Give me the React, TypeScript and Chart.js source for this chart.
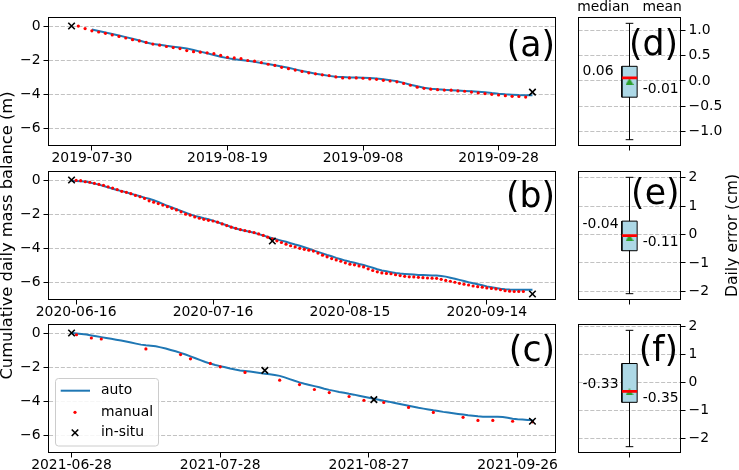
import React, { useEffect, useRef } from "react";
import { Chart, registerables } from "chart.js";

Chart.register(...registerables);

// ---------------- data ----------------
// Panel (a) 2019
const startA = "2019-07-27";
const tickLabelsA = ["2019-07-30", "2019-08-19", "2019-09-08", "2019-09-28"];
const autoFirstDayA = 3;
const autoA = [
  -0.2, -0.29, -0.38, -0.47, -0.56, -0.65, -0.75, -0.85, -0.96, -1.05,
  -1.1, -1.16, -1.21, -1.26, -1.31, -1.4, -1.5, -1.6, -1.7, -1.8,
  -1.88, -1.94, -1.99, -2.04, -2.1, -2.16, -2.22, -2.3, -2.37, -2.45,
  -2.54, -2.63, -2.71, -2.79, -2.86, -2.92, -2.97, -2.99, -3.01, -3.02,
  -3.03, -3.05, -3.08, -3.12, -3.17, -3.24, -3.33, -3.44, -3.53, -3.61,
  -3.67, -3.71, -3.74, -3.76, -3.78, -3.8, -3.82, -3.85, -3.88, -3.93,
  -3.97, -4.0, -4.02, -4.04, -4.05, -4.06,
];
const manualFirstDayA = 1;
const manualA = [
  0.0, -0.15, -0.28, -0.35, -0.43, -0.52, -0.61, -0.7, -0.8, -0.87,
  -0.96, -1.06, -1.12, -1.2, -1.26, -1.32, -1.44, -1.5, -1.53, -1.57,
  -1.62, -1.72, -1.83, -1.87, -1.91, -2.02, -2.06, -2.14, -2.24, -2.31,
  -2.42, -2.5, -2.58, -2.66, -2.74, -2.8, -2.86, -2.9, -2.98, -3.04,
  -3.04, -3.04, -3.06, -3.1, -3.12, -3.18, -3.22, -3.27, -3.36, -3.47,
  -3.58, -3.65, -3.7, -3.73, -3.75, -3.76, -3.8, -3.82, -3.87, -3.92,
  -3.96, -4.0, -4.04, -4.08, -4.12, -4.13, -4.16,
];
const insituDaysA = [0, 68];
const insituA = [0.0, -3.87];

// Panel (b) 2020
const startB = "2020-06-15";
const tickLabelsB = ["2020-06-16", "2020-07-16", "2020-08-15", "2020-09-14"];
const autoFirstDayB = 0;
const autoB = [
  -0.05, -0.06, -0.07, -0.09, -0.14, -0.21, -0.27, -0.35, -0.43, -0.51,
  -0.58, -0.65, -0.72, -0.8, -0.87, -0.95, -1.03, -1.1, -1.18, -1.29,
  -1.4, -1.51, -1.61, -1.71, -1.81, -1.91, -2.01, -2.1, -2.17, -2.24,
  -2.3, -2.38, -2.47, -2.56, -2.65, -2.75, -2.84, -2.91, -2.97, -3.03,
  -3.09, -3.17, -3.25, -3.33, -3.41, -3.48, -3.55, -3.62, -3.7, -3.78,
  -3.85, -3.94, -4.03, -4.12, -4.21, -4.3, -4.39, -4.47, -4.56, -4.64,
  -4.72, -4.79, -4.85, -4.92, -4.98, -5.06, -5.14, -5.23, -5.3, -5.35,
  -5.4, -5.45, -5.48, -5.5, -5.52, -5.54, -5.56, -5.57, -5.58, -5.59,
  -5.6, -5.62, -5.66, -5.72, -5.78, -5.85, -5.92, -5.99, -6.05, -6.11,
  -6.17, -6.23, -6.28, -6.33, -6.37, -6.4, -6.42, -6.43, -6.43, -6.43,
  -6.43, -6.43,
];
const manualFirstDayB = 1;
const manualB = [
  -0.02, -0.04, -0.1, -0.13, -0.19, -0.25, -0.31, -0.4, -0.47, -0.56,
  -0.66, -0.72, -0.8, -0.9, -0.98, -1.08, -1.22, -1.3, -1.38, -1.47,
  -1.56, -1.66, -1.75, -1.86, -2.0, -2.06, -2.16, -2.24, -2.3, -2.36,
  -2.4, -2.47, -2.57, -2.67, -2.76, -2.83, -2.9, -2.96, -3.02, -3.08,
  -3.16, -3.24, -3.35, -3.45, -3.56, -3.66, -3.76, -3.85, -3.92, -4.0,
  -4.06, -4.11, -4.16, -4.28, -4.4, -4.5, -4.6, -4.68, -4.76, -4.85,
  -4.93, -4.97, -5.03, -5.09, -5.2, -5.3, -5.38, -5.44, -5.47, -5.49,
  -5.55, -5.6, -5.64, -5.67, -5.68, -5.7, -5.72, -5.74, -5.75, -5.76,
  -5.82, -5.88, -5.93, -5.99, -6.05, -6.1, -6.15, -6.21, -6.25, -6.28,
  -6.32, -6.35, -6.38, -6.43, -6.48, -6.51, -6.53, -6.53, -6.53,
];
const insituDaysB = [0, 44, 101];
const insituB = [0.0, -3.57, -6.68];

// Panel (c) 2021
const startC = "2021-06-28";
const tickLabelsC = ["2021-06-28", "2021-07-28", "2021-08-27", "2021-09-26"];
const autoFirstDayC = 0;
const autoC = [
  0.0, -0.03, -0.06, -0.09, -0.14, -0.19, -0.24, -0.29, -0.34, -0.39,
  -0.44, -0.5, -0.56, -0.62, -0.68, -0.72, -0.75, -0.78, -0.84, -0.91,
  -0.99, -1.07, -1.16, -1.26, -1.37, -1.48, -1.59, -1.7, -1.79, -1.87,
  -1.94, -2.01, -2.08, -2.14, -2.19, -2.22, -2.26, -2.3, -2.34, -2.38,
  -2.42, -2.46, -2.51, -2.6, -2.7, -2.8, -2.89, -2.97, -3.04, -3.11,
  -3.18, -3.26, -3.33, -3.39, -3.45, -3.5, -3.56, -3.61, -3.67, -3.73,
  -3.79, -3.85, -3.91, -3.97, -4.02, -4.08, -4.14, -4.2, -4.26, -4.32,
  -4.38, -4.43, -4.48, -4.53, -4.57, -4.62, -4.66, -4.7, -4.74, -4.78,
  -4.82, -4.85, -4.88, -4.9, -4.91, -4.91, -4.91, -4.92, -4.96, -5.02,
  -5.05, -5.07, -5.09, -5.1,
];
const manualDaysC = [1, 4, 6, 15, 22, 24, 28, 30, 35, 42, 46, 49, 52, 56, 59, 63, 68, 73, 79, 82, 85, 89, 93];
const manualC = [
  -0.1, -0.29, -0.35, -0.93, -1.26, -1.51, -1.78, -1.98, -2.31, -2.76,
  -3.02, -3.31, -3.49, -3.72, -3.94, -4.07, -4.36, -4.65, -4.94, -5.12,
  -5.12, -5.17, -5.2,
];
const insituDaysC = [0, 39, 61, 93];
const insituC = [0.0, -2.19, -3.9, -5.17];

const seriesYTicks = [-6, -4, -2, 0];
const seriesYRange = [-7, 0.5];

// Box panels: [lower whisker, Q1, median, Q3, upper whisker]
const boxStatsD = [-1.16, -0.32, 0.06, 0.29, 1.14];
const boxMeanD = -0.01;
const boxTicksD = [-1, -0.5, 0, 0.5, 1];
const boxStatsE = [-2.08, -0.57, -0.04, 0.47, 2.01];
const boxMeanE = -0.11;
const boxTicksE = [-2, -1, 0, 1, 2];
const boxStatsF = [-2.31, -0.72, -0.33, 0.67, 1.86];
const boxMeanF = -0.35;
const boxTicksF = [-2, -1, 0, 1, 2];

// ---------------- layout / style ----------------
const W = 739;
const H = 470;
const ROWS = [
  [17.5, 145.5],
  [171.5, 299.5],
  [324.5, 452.5],
];
const SERIES_X = [48.5, 555.5];
const BOX_X = [578.5, 680.5];
const FAMILY = "'DejaVu Sans', 'Liberation Sans', sans-serif";
const TICK_SIZE = 13.9;
const TICK_FONT = { family: FAMILY, size: TICK_SIZE, lineHeight: 1 };
const GRID_COLOR = "#c2c2c2";
const GRID_DASH = [4.1, 1.8];
const BLUE = "#1f77b4";

type Pt = { x: number; y: number };
const DAY = 86400000;
const dayOf = (start: string, d: string) =>
  Math.round((Date.parse(d) - Date.parse(start)) / DAY);
const consecutive = (first: number, vals: number[]): Pt[] =>
  vals.map((y, i) => ({ x: first + i, y }));
const paired = (days: number[], vals: number[]): Pt[] =>
  vals.map((y, i) => ({ x: days[i], y }));
const minus = (s: string) => s.replace("-", "\u2212");
const axisHeight = (bottom: number) => Math.min(22, H - bottom);

// centred triangle marker (matplotlib "^" style)
function triangleMarker(color: string, w: number, h: number) {
  const c = document.createElement("canvas");
  c.width = w;
  c.height = h;
  const g = c.getContext("2d")!;
  g.fillStyle = color;
  g.beginPath();
  g.moveTo(w / 2, 0);
  g.lineTo(w, h);
  g.lineTo(0, h);
  g.closePath();
  g.fill();
  return c;
}

const framePlugin = {
  id: "frame",
  afterDraw(chart: any) {
    const { ctx, chartArea: a } = chart;
    ctx.save();
    ctx.strokeStyle = "#000";
    ctx.lineWidth = 1;
    ctx.strokeRect(a.left, a.top, a.right - a.left, a.bottom - a.top);
    ctx.restore();
  },
};

function drawX(ctx: CanvasRenderingContext2D, x: number, y: number, r: number) {
  ctx.beginPath();
  ctx.moveTo(x - r, y - r);
  ctx.lineTo(x + r, y + r);
  ctx.moveTo(x + r, y - r);
  ctx.lineTo(x - r, y + r);
  ctx.stroke();
}

interface SeriesPanel {
  start: string;
  tickLabels: string[];
  auto: Pt[];
  manual: Pt[];
  insitu: Pt[];
  letter: string;
  letterDy: number;
  row: number;
}

function makeSeries(canvas: HTMLCanvasElement, p: SeriesPanel, extra: any[]) {
  const [top, bottom] = ROWS[p.row];
  const xs = [...p.auto, ...p.manual, ...p.insitu].map((d) => d.x);
  const lo = Math.min(...xs);
  const hi = Math.max(...xs);
  const m = 0.05 * (hi - lo);
  const tickDays = p.tickLabels.map((l) => dayOf(p.start, l));
  const YW = 40;
  const XH = axisHeight(bottom);
  const letterPlugin = {
    id: "letter",
    afterDraw(chart: any) {
      const { ctx, chartArea: a } = chart;
      ctx.save();
      ctx.font = `34.7px ${FAMILY}`;
      ctx.fillStyle = "#000";
      ctx.textAlign = "right";
      ctx.textBaseline = "alphabetic";
      ctx.fillText(p.letter, a.right - 0.5, a.top + p.letterDy);
      ctx.restore();
    },
  };
  return new Chart(canvas, {
    type: "line",
    data: {
      datasets: [
        {
          label: "in-situ",
          data: p.insitu,
          showLine: false,
          pointStyle: "crossRot",
          pointRadius: 4.6,
          pointBorderWidth: 1.6,
          pointBorderColor: "#000",
          pointBackgroundColor: "#000",
          borderColor: "#000",
          order: 1,
        },
        {
          label: "manual",
          data: p.manual,
          showLine: false,
          pointStyle: "circle",
          pointRadius: 1.6,
          pointBorderWidth: 0,
          pointBackgroundColor: "#ff0000",
          borderColor: "#ff0000",
          backgroundColor: "#ff0000",
          order: 2,
        },
        {
          label: "auto",
          data: p.auto,
          borderColor: BLUE,
          borderWidth: 2,
          pointRadius: 0,
          tension: 0,
          fill: false,
          order: 3,
        },
      ],
    },
    options: {
      animation: false,
      responsive: false,
      events: [],
      layout: {
        padding: {
          left: SERIES_X[0] - YW,
          right: W - SERIES_X[1],
          top,
          bottom: H - bottom - XH,
        },
      },
      plugins: { legend: { display: false }, tooltip: { enabled: false } },
      scales: {
        x: {
          type: "linear",
          min: lo - m,
          max: hi + m,
          afterBuildTicks: (s: any) => {
            s.ticks = tickDays.map((v) => ({ value: v }));
          },
          afterFit: (s: any) => {
            s.height = XH;
          },
          ticks: {
            autoSkip: false,
            maxRotation: 0,
            minRotation: 0,
            padding: 1,
            color: "#000",
            font: TICK_FONT,
            callback: (_v: any, i: number) => p.tickLabels[i],
          },
          grid: {
            display: true,
            drawOnChartArea: false,
            drawTicks: true,
            tickLength: 5,
            tickColor: "#000",
            tickWidth: 1,
          },
          border: { display: false },
        },
        y: {
          type: "linear",
          min: seriesYRange[0],
          max: seriesYRange[1],
          afterBuildTicks: (s: any) => {
            s.ticks = seriesYTicks.map((v) => ({ value: v }));
          },
          afterFit: (s: any) => {
            s.width = YW;
          },
          ticks: {
            padding: 3,
            color: "#000",
            font: TICK_FONT,
            callback: (v: any) => minus(String(v)),
          },
          grid: {
            display: true,
            color: GRID_COLOR,
            lineWidth: 1,
            drawTicks: true,
            tickLength: 5,
            tickColor: "#000",
            tickWidth: 1,
            tickBorderDash: [],
          },
          border: { display: false, dash: GRID_DASH },
        },
      },
    } as any,
    plugins: [framePlugin, letterPlugin, ...extra],
  });
}

interface BoxPanel {
  stats: number[];
  mean: number;
  ticks: number[];
  decimals: number;
  letter: string;
  letterDy: number;
  letterDx: number;
  medDy: number;
  meanDy: number;
  row: number;
}

function makeBox(canvas: HTMLCanvasElement, b: BoxPanel, extra: any[]) {
  const [top, bottom] = ROWS[b.row];
  const [lo, q1, med, q3, hi] = b.stats;
  const span = hi - lo;
  const POS = 1;
  const BW = 0.15;
  const CW = 0.075;
  const bl = POS - BW / 2;
  const br = POS + BW / 2;
  const seg = (x0: number, y0: number, x1: number, y1: number) => [
    { x: x0, y: y0 },
    { x: x1, y: y1 },
  ];
  const YW = 45;
  const XH = axisHeight(bottom);
  const line = (data: Pt[], color: string, width: number, order: number) => ({
    data,
    borderColor: color,
    borderWidth: width,
    pointRadius: 0,
    fill: false,
    tension: 0,
    borderCapStyle: "butt",
    order,
  });
  const textPlugin = {
    id: "boxText",
    afterDraw(chart: any) {
      const { ctx, chartArea: a } = chart;
      const sx = chart.scales.x;
      ctx.save();
      ctx.fillStyle = "#000";
      ctx.textBaseline = "alphabetic";
      ctx.textAlign = "left";
      ctx.font = `${TICK_SIZE}px ${FAMILY}`;
      ctx.fillText(med.toFixed(2), sx.getPixelForValue(0.54), a.top + b.medDy);
      ctx.fillText(b.mean.toFixed(2), sx.getPixelForValue(1.13), a.top + b.meanDy);
      ctx.font = `34.7px ${FAMILY}`;
      ctx.textAlign = "right";
      ctx.fillText(b.letter, a.right - b.letterDx, a.top + b.letterDy);
      ctx.restore();
    },
  };
  return new Chart(canvas, {
    type: "line",
    data: {
      datasets: [
        {
          data: seg(bl, q3, br, q3),
          fill: { value: q1 },
          backgroundColor: "#add8e6",
          borderColor: "rgba(0,0,0,0)",
          borderWidth: 0,
          pointRadius: 0,
          order: 10,
        },
        line(
          [
            { x: bl, y: q1 },
            { x: br, y: q1 },
            { x: br, y: q3 },
            { x: bl, y: q3 },
            { x: bl, y: q1 },
          ],
          "#000",
          1,
          8
        ),
        line(seg(POS, q3, POS, hi), "#000", 1, 7),
        line(seg(POS, q1, POS, lo), "#000", 1, 7),
        line(seg(POS - CW / 2, hi, POS + CW / 2, hi), "#000", 1, 7),
        line(seg(POS - CW / 2, lo, POS + CW / 2, lo), "#000", 1, 7),
        line(seg(bl, med, br, med), "#ff0000", 2.8, 1),
        {
          data: [{ x: POS, y: b.mean }],
          showLine: false,
          pointStyle: triangleMarker("#2ca02c", 8, 7),
          pointRadius: 4,
          pointBorderWidth: 0,
          pointBackgroundColor: "#2ca02c",
          pointBorderColor: "#2ca02c",
          order: 2,
        },
      ],
    },
    options: {
      animation: false,
      responsive: false,
      events: [],
      layout: {
        padding: {
          left: BOX_X[0],
          right: W - BOX_X[1] - YW,
          top,
          bottom: H - bottom - XH,
        },
      },
      plugins: { legend: { display: false }, tooltip: { enabled: false } },
      scales: {
        x: {
          type: "linear",
          min: 0.5,
          max: 1.5,
          afterBuildTicks: (s: any) => {
            s.ticks = [{ value: POS }];
          },
          afterFit: (s: any) => {
            s.height = XH;
          },
          ticks: { font: TICK_FONT, callback: () => "" },
          grid: {
            display: true,
            drawOnChartArea: false,
            drawTicks: true,
            tickLength: 5,
            tickColor: "#000",
            tickWidth: 1,
          },
          border: { display: false },
        },
        y: {
          type: "linear",
          position: "right",
          min: lo - 0.05 * span,
          max: hi + 0.05 * span,
          afterBuildTicks: (s: any) => {
            s.ticks = b.ticks.map((v) => ({ value: v }));
          },
          afterFit: (s: any) => {
            s.width = YW;
          },
          ticks: {
            padding: 3,
            color: "#000",
            font: TICK_FONT,
            callback: (v: any) => minus(Number(v).toFixed(b.decimals)),
          },
          grid: {
            display: true,
            color: GRID_COLOR,
            lineWidth: 1,
            drawTicks: true,
            tickLength: 5,
            tickColor: "#000",
            tickWidth: 1,
            tickBorderDash: [],
          },
          border: { display: false, dash: GRID_DASH },
        },
      },
    } as any,
    plugins: [framePlugin, textPlugin, ...extra],
  });
}

// extra text plugins
const yTitlePlugin = {
  id: "yTitle",
  afterDraw(chart: any) {
    const ctx = chart.ctx;
    ctx.save();
    ctx.translate(11.7, 235.5);
    ctx.rotate(-Math.PI / 2);
    ctx.font = `16.3px ${FAMILY}`;
    ctx.fillStyle = "#000";
    ctx.textAlign = "center";
    ctx.textBaseline = "alphabetic";
    ctx.fillText("Cumulative daily mass balance (m)", 0, 0);
    ctx.restore();
  },
};

const rightTitlePlugin = {
  id: "rTitle",
  afterDraw(chart: any) {
    const ctx = chart.ctx;
    ctx.save();
    ctx.translate(736.7, 235.5);
    ctx.rotate(-Math.PI / 2);
    ctx.font = `15.6px ${FAMILY}`;
    ctx.fillStyle = "#000";
    ctx.textAlign = "center";
    ctx.textBaseline = "alphabetic";
    ctx.fillText("Daily error (cm)", 0, 0);
    ctx.restore();
  },
};

const boxTitlePlugin = {
  id: "boxTitle",
  afterDraw(chart: any) {
    const { ctx, chartArea: a } = chart;
    ctx.save();
    ctx.font = `${TICK_SIZE}px ${FAMILY}`;
    ctx.fillStyle = "#000";
    ctx.textAlign = "center";
    ctx.textBaseline = "alphabetic";
    ctx.fillText("median   mean", (a.left + a.right) / 2, a.top - 7);
    ctx.restore();
  },
};

const legendPlugin = {
  id: "customLegend",
  afterDatasetsDraw(chart: any) {
    const { ctx, chartArea: a } = chart;
    const ds = chart.data.datasets;
    const auto = ds.find((d: any) => d.label === "auto");
    const manual = ds.find((d: any) => d.label === "manual");
    const insitu = ds.find((d: any) => d.label === "in-situ");
    const bx = a.left + 7;
    const by = a.bottom - 74;
    ctx.save();
    ctx.beginPath();
    (ctx as any).roundRect(bx, by, 103, 67.5, 3);
    ctx.fillStyle = "rgba(255,255,255,0.85)";
    ctx.fill();
    ctx.strokeStyle = "#cccccc";
    ctx.lineWidth = 1;
    ctx.stroke();
    // auto
    ctx.strokeStyle = auto.borderColor;
    ctx.lineWidth = auto.borderWidth;
    ctx.beginPath();
    ctx.moveTo(a.left + 12.2, a.bottom - 61.8);
    ctx.lineTo(a.left + 41.5, a.bottom - 61.8);
    ctx.stroke();
    // manual
    ctx.fillStyle = manual.pointBackgroundColor;
    ctx.beginPath();
    ctx.arc(a.left + 26.5, a.bottom - 40.2, manual.pointRadius, 0, Math.PI * 2);
    ctx.fill();
    // in-situ
    ctx.strokeStyle = insitu.pointBorderColor;
    ctx.lineWidth = insitu.pointBorderWidth;
    drawX(ctx, a.left + 26.5, a.bottom - 19.8, insitu.pointRadius * Math.SQRT1_2);
    // labels
    ctx.fillStyle = "#000";
    ctx.font = `${TICK_SIZE}px ${FAMILY}`;
    ctx.textAlign = "left";
    ctx.textBaseline = "alphabetic";
    ctx.fillText(auto.label, a.left + 52.5, a.bottom - 58.5);
    ctx.fillText(manual.label, a.left + 52.5, a.bottom - 37);
    ctx.fillText(insitu.label, a.left + 52.5, a.bottom - 16.8);
    ctx.restore();
  },
};

export default function App() {
  const canvases = useRef<(HTMLCanvasElement | null)[]>([]);
  useEffect(() => {
    const c = canvases.current;
    const charts = [
      makeSeries(
        c[0]!,
        {
          start: startA,
          tickLabels: tickLabelsA,
          auto: consecutive(autoFirstDayA, autoA),
          manual: consecutive(manualFirstDayA, manualA),
          insitu: paired(insituDaysA, insituA),
          letter: "(a)",
          letterDy: 38.5,
          row: 0,
        },
        []
      ),
      makeSeries(
        c[1]!,
        {
          start: startB,
          tickLabels: tickLabelsB,
          auto: consecutive(autoFirstDayB, autoB),
          manual: consecutive(manualFirstDayB, manualB),
          insitu: paired(insituDaysB, insituB),
          letter: "(b)",
          letterDy: 35.7,
          row: 1,
        },
        [yTitlePlugin]
      ),
      makeSeries(
        c[2]!,
        {
          start: startC,
          tickLabels: tickLabelsC,
          auto: consecutive(autoFirstDayC, autoC),
          manual: paired(manualDaysC, manualC),
          insitu: paired(insituDaysC, insituC),
          letter: "(c)",
          letterDy: 36,
          row: 2,
        },
        [legendPlugin]
      ),
      makeBox(
        c[3]!,
        {
          stats: boxStatsD,
          mean: boxMeanD,
          ticks: boxTicksD,
          decimals: 1,
          letter: "(d)",
          letterDy: 37.3,
          letterDx: 2.5,
          medDy: 57.5,
          meanDy: 75.2,
          row: 0,
        },
        [boxTitlePlugin]
      ),
      makeBox(
        c[4]!,
        {
          stats: boxStatsE,
          mean: boxMeanE,
          ticks: boxTicksE,
          decimals: 0,
          letter: "(e)",
          letterDy: 32.3,
          letterDx: 1,
          medDy: 56.8,
          meanDy: 74.5,
          row: 1,
        },
        [rightTitlePlugin]
      ),
      makeBox(
        c[5]!,
        {
          stats: boxStatsF,
          mean: boxMeanF,
          ticks: boxTicksF,
          decimals: 0,
          letter: "(f)",
          letterDy: 36,
          letterDx: 2.5,
          medDy: 63.2,
          meanDy: 77.8,
          row: 2,
        },
        []
      ),
    ];
    return () => charts.forEach((ch) => ch.destroy());
  }, []);

  return (
    <div
      style={{
        position: "fixed",
        left: 0,
        top: 0,
        width: W,
        height: H,
        background: "#fff",
        overflow: "hidden",
      }}
    >
      {[0, 1, 2, 3, 4, 5].map((i) => (
        <canvas
          key={i}
          ref={(el) => {
            canvases.current[i] = el;
          }}
          width={W}
          height={H}
          style={{ position: "absolute", left: 0, top: 0, width: W, height: H }}
        />
      ))}
    </div>
  );
}
